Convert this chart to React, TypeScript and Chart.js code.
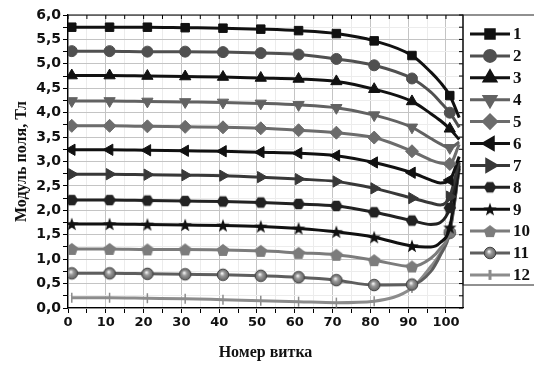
import React, { useEffect, useRef } from "react";
import { Chart, registerables } from "chart.js";
import { drawPoint } from "chart.js/helpers";

Chart.register(...registerables);

// ---- data ----
const turns = [1, 11, 21, 31, 41, 51, 61, 71, 81, 91, 96, 98.5, 101, 103.5];
const markerTurns = [1, 11, 21, 31, 41, 51, 61, 71, 81, 91, 101];
const seriesLabels = ["1", "2", "3", "4", "5", "6", "7", "8", "9", "10", "11", "12"];

const s1 = [5.75, 5.75, 5.75, 5.74, 5.73, 5.71, 5.68, 5.62, 5.47, 5.17, 4.83, 4.62, 4.35, 3.9];
const s2 = [5.26, 5.26, 5.25, 5.25, 5.24, 5.22, 5.19, 5.1, 4.97, 4.7, 4.42, 4.22, 4.0, 3.7];
const s3 = [4.76, 4.76, 4.75, 4.74, 4.73, 4.71, 4.69, 4.64, 4.48, 4.23, 3.98, 3.84, 3.67, 3.45];
const s4 = [4.24, 4.24, 4.23, 4.22, 4.21, 4.19, 4.16, 4.1, 3.95, 3.7, 3.47, 3.36, 3.28, 3.4];
const s5 = [3.73, 3.73, 3.72, 3.71, 3.7, 3.68, 3.64, 3.59, 3.49, 3.21, 3.03, 2.97, 2.95, 3.35];
const s6 = [3.24, 3.24, 3.23, 3.22, 3.21, 3.19, 3.17, 3.12, 2.98, 2.77, 2.62, 2.56, 2.62, 3.1];
const s7 = [2.74, 2.74, 2.73, 2.72, 2.71, 2.68, 2.64, 2.59, 2.45, 2.25, 2.15, 2.11, 2.28, 3.02];
const s8 = [2.21, 2.21, 2.2, 2.19, 2.18, 2.16, 2.13, 2.09, 1.96, 1.79, 1.71, 1.75, 2.05, 2.97];
const s9 = [1.72, 1.72, 1.71, 1.7, 1.69, 1.67, 1.63, 1.56, 1.45, 1.27, 1.25, 1.34, 1.65, 2.92];
const s10 = [1.21, 1.21, 1.2, 1.2, 1.19, 1.17, 1.13, 1.09, 0.98, 0.85, 1.02, 1.22, 1.57, 2.88];
const s11 = [0.71, 0.71, 0.7, 0.69, 0.68, 0.66, 0.63, 0.57, 0.47, 0.48, 0.75, 1.08, 1.54, 2.85];
const s12 = [0.21, 0.21, 0.2, 0.19, 0.17, 0.15, 0.13, 0.11, 0.14, 0.41, 0.85, 1.12, 1.6, 2.85];

const seriesValues = [s1, s2, s3, s4, s5, s6, s7, s8, s9, s10, s11, s12];
const seriesColors = [
  "#111111", "#505050", "#111111", "#626262", "#6c6c6c", "#111111",
  "#383838", "#222222", "#111111", "#7c7c7c", "#5e5e5e", "#8c8c8c",
];

const xTickLabels = [0, 10, 20, 30, 40, 50, 60, 70, 80, 90, 100];

function makeMarker(kind: string, color: string): HTMLCanvasElement {
  const size = 18;
  const c = document.createElement("canvas");
  c.width = size;
  c.height = size;
  const g = c.getContext("2d")!;
  const cx = size / 2, cy = size / 2;
  g.fillStyle = color;
  g.strokeStyle = color;
  g.beginPath();
  if (kind === "hex") {
    const r = 6.2;
    for (let i = 0; i < 6; i++) {
      const a = (Math.PI / 3) * i;
      const x = cx + r * Math.cos(a), y = cy + r * Math.sin(a);
      i ? g.lineTo(x, y) : g.moveTo(x, y);
    }
    g.closePath();
    g.fill();
  } else if (kind === "star") {
    const ro = 7, ri = 2.8;
    for (let i = 0; i < 10; i++) {
      const a = -Math.PI / 2 + (Math.PI / 5) * i;
      const r = i % 2 ? ri : ro;
      const x = cx + r * Math.cos(a), y = cy + 0.6 + r * Math.sin(a);
      i ? g.lineTo(x, y) : g.moveTo(x, y);
    }
    g.closePath();
    g.fill();
  } else if (kind === "penta") {
    const r = 6.6;
    for (let i = 0; i < 5; i++) {
      const a = -Math.PI / 2 + ((2 * Math.PI) / 5) * i;
      const x = cx + r * Math.cos(a), y = cy + 0.7 + r * Math.sin(a);
      i ? g.lineTo(x, y) : g.moveTo(x, y);
    }
    g.closePath();
    g.fill();
  } else if (kind === "sphere") {
    const grd = g.createRadialGradient(cx - 1, cy - 1.5, 0.5, cx, cy, 6);
    grd.addColorStop(0, "#eeeeee");
    grd.addColorStop(0.35, "#9a9a9a");
    grd.addColorStop(1, color);
    g.fillStyle = grd;
    g.arc(cx, cy, 5.8, 0, Math.PI * 2);
    g.fill();
    g.lineWidth = 1;
    g.strokeStyle = "#444";
    g.stroke();
  }
  return c;
}

const frameLegendPlugin = {
  id: "frameLegend",
  afterDraw(chart: any) {
    const ctx = chart.ctx;
    const a = chart.chartArea;
    ctx.save();
    ctx.strokeStyle = "#000";
    ctx.lineWidth = 1.2;
    ctx.beginPath();
    ctx.moveTo(a.left, a.top);
    ctx.lineTo(a.right, a.top);
    ctx.lineTo(a.right, a.bottom);
    ctx.stroke();
    // mirrored ticks
    ctx.lineWidth = 1;
    chart.scales.x.ticks.forEach((t: any) => {
      const px = chart.scales.x.getPixelForValue(t.value);
      ctx.beginPath();
      ctx.moveTo(px, a.top);
      ctx.lineTo(px, a.top + 4);
      ctx.stroke();
    });
    chart.scales.y.ticks.forEach((t: any) => {
      const py = chart.scales.y.getPixelForValue(t.value);
      ctx.beginPath();
      ctx.moveTo(a.right, py);
      ctx.lineTo(a.right - 4, py);
      ctx.stroke();
    });
    // legend box
    const lx = a.right, ly = a.top, lw = 90, lh = 270;
    ctx.strokeStyle = "#222";
    ctx.lineWidth = 1;
    ctx.strokeRect(lx, ly, lw, lh);
    chart.data.datasets.forEach((ds: any, i: number) => {
      const y = ly + 19 + i * 21.9;
      ctx.strokeStyle = ds.borderColor;
      ctx.lineWidth = 3;
      ctx.beginPath();
      ctx.moveTo(lx + 7, y);
      ctx.lineTo(lx + 47, y);
      ctx.stroke();
      ctx.fillStyle = ds.pointBackgroundColor;
      ctx.strokeStyle = ds.pointBorderColor;
      drawPoint(
        ctx,
        {
          pointStyle: ds.pointStyle,
          rotation: ds.pointRotation || 0,
          radius: ds.legendRadius,
          borderWidth: ds.pointBorderWidth,
        },
        lx + 27,
        y
      );
      ctx.fillStyle = "#111";
      ctx.font = "bold 17px 'Liberation Serif', serif";
      ctx.textBaseline = "middle";
      ctx.textAlign = "left";
      ctx.fillText(ds.label, lx + 50, y + 1);
    });
    ctx.restore();
  },
};

export default function App() {
  const ref = useRef<HTMLCanvasElement>(null);
  useEffect(() => {
    const styles: any[] = [
      { ps: "rect", rot: 0, r: 6 },
      { ps: "circle", rot: 0, r: 5.5 },
      { ps: "triangle", rot: 0, r: 6.5 },
      { ps: "triangle", rot: 180, r: 6.5 },
      { ps: "rectRot", rot: 0, r: 6.5 },
      { ps: "triangle", rot: -90, r: 6.5 },
      { ps: "triangle", rot: 90, r: 6.5 },
      { ps: makeMarker("hex", seriesColors[7]), rot: 0, r: 6 },
      { ps: makeMarker("star", seriesColors[8]), rot: 0, r: 6 },
      { ps: makeMarker("penta", seriesColors[9]), rot: 0, r: 6 },
      { ps: makeMarker("sphere", seriesColors[10]), rot: 0, r: 6 },
      { ps: "line", rot: 90, r: 5 },
    ];
    const datasets = seriesValues.map((vals, i) => {
      const st = styles[i];
      const col = seriesColors[i];
      return {
        label: seriesLabels[i],
        data: vals.map((v, j) => ({ x: turns[j], y: v })),
        borderColor: col,
        backgroundColor: col,
        pointBackgroundColor: col,
        pointBorderColor: col,
        pointBorderWidth: i === 11 ? 1.5 : 1,
        borderWidth: 3,
        pointStyle: st.ps,
        pointRotation: st.rot,
        legendRadius: st.r,
        pointRadius: (c: any) =>
          markerTurns.includes(turns[c.dataIndex]) ? st.r : 0,
        pointHoverRadius: 0,
        cubicInterpolationMode: "monotone",
        fill: false,
      };
    });
    const isMajorX = (v: number) => xTickLabels.includes(v);
    const isMajorY = (v: number) => Math.abs(v * 2 - Math.round(v * 2)) < 1e-6;
    const chart = new Chart(ref.current!, {
      type: "line",
      data: { datasets } as any,
      plugins: [frameLegendPlugin],
      options: {
        animation: false,
        responsive: false,
        events: [],
        layout: { padding: { top: 15, right: 71, left: 0, bottom: 0 } },
        plugins: { legend: { display: false }, tooltip: { enabled: false } },
        scales: {
          x: {
            type: "linear",
            min: 0,
            max: 104.5,
            afterFit: (s: any) => {
              s.height = 59;
            },
            border: { color: "#000", width: 1.3 },
            grid: {
              color: (c: any) => (isMajorX(c.tick.value) ? "#c4c4c4" : "#ececec"),
              tickColor: "#000",
              tickLength: 5,
              lineWidth: 1,
            },
            ticks: {
              stepSize: 5,
              includeBounds: false,
              autoSkip: false,
              maxRotation: 0,
              padding: 2,
              color: "#111",
              font: { family: "'DejaVu Sans', sans-serif", weight: "bold", size: 13 },
              callback: (v: any) => (isMajorX(Number(v)) ? String(v) : ""),
            },
            title: {
              display: true,
              text: "Номер витка",
              color: "#111",
              padding: { top: 0, bottom: 5 },
              font: { family: "'Liberation Serif', serif", weight: "bold", size: 16 },
            },
          },
          y: {
            type: "linear",
            min: 0,
            max: 6,
            afterFit: (s: any) => {
              s.width = 68;
            },
            border: { color: "#000", width: 1.3 },
            grid: {
              color: (c: any) => (isMajorY(c.tick.value) ? "#c4c4c4" : "#ececec"),
              tickColor: "#000",
              tickLength: 5,
              lineWidth: 1,
            },
            ticks: {
              stepSize: 0.25,
              autoSkip: false,
              padding: 2,
              color: "#111",
              font: { family: "'DejaVu Sans', sans-serif", weight: "bold", size: 14 },
              callback: (v: any) =>
                isMajorY(Number(v)) ? Number(v).toFixed(1).replace(".", ",") : "",
            },
            title: {
              display: true,
              text: "Модуль поля, Тл",
              color: "#111",
              padding: { top: 12, bottom: 0 },
              font: { family: "'Liberation Serif', serif", weight: "bold", size: 16 },
            },
          },
        },
      } as any,
    });
    return () => chart.destroy();
  }, []);
  return (
    <div style={{ position: "absolute", left: 0, top: 0, width: 534, height: 367, background: "#fff" }}>
      <canvas ref={ref} width={534} height={367} style={{ width: 534, height: 367, display: "block" }} />
    </div>
  );
}
